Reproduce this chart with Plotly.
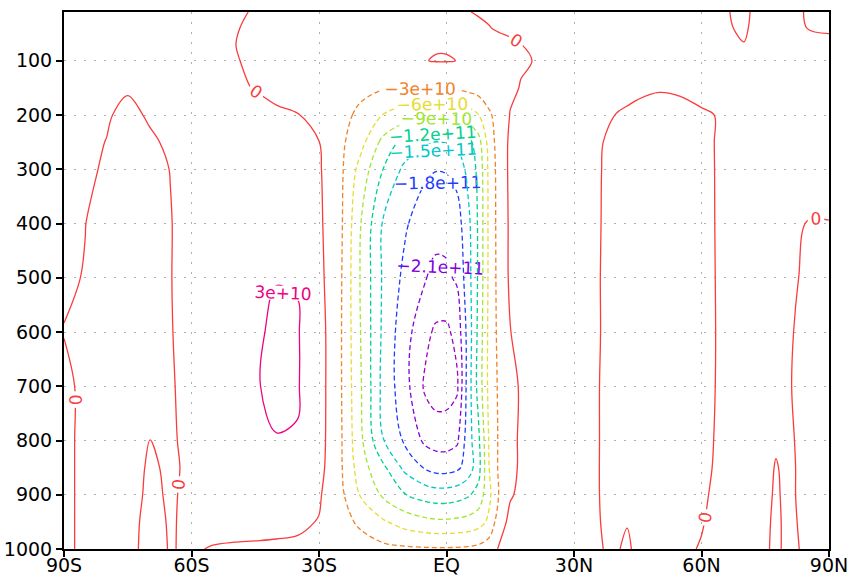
import plotly.graph_objects as go

# ---- grid -------------------------------------------------------------
lat = [-90, -85, -80, -75, -70, -65, -60, -55,
       -50, -45, -40, -35, -30, -25, -20, -15, -10, -5,
       -2.5, 0, 2.5, 5, 7.5, 10, 12.5, 15, 17.5,
       20, 25, 30, 35, 40, 42.5, 45, 50, 55, 60, 65, 70, 75, 77.5, 80, 85, 90]
pressure = [10, 40, 70, 100, 150, 200, 250, 300, 400, 500, 600, 700, 800, 850, 900, 950, 1000]

# mass streamfunction, units of 1e10 (one list per level)
#          SH polar (-90..-55)                         | SH mid (-50..-5)                                            | tropics (-2.5..17.5)                                   | NH (20..90)
psi_10 = [0.1, 0.15, 0.2, 0.25, 0.3, 0.3, 0.3, 0.3,     0.2, -0.1, -0.3, -0.4, -0.5, -0.6, -0.6, -0.6, -0.5, -0.4,     -0.35, -0.3, -0.2, -0.05, 0.1, 0.2, 0.3, 0.35, 0.4,     0.4, 0.4, 0.4, 0.4, 0.4, 0.4, 0.4, 0.4, 0.35, 0.3, 0.05, -0.1, 0.25, 0.25, 0.2, -0.05, -0.1]
psi_40 = [0.2, 0.25, 0.3, 0.3, 0.3, 0.3, 0.3, 0.3,      0.15, -0.4, -0.7, -0.9, -1.0, -1.1, -1.1, -1.0, -0.9, -0.7,   -0.6, -0.55, -0.45, -0.35, -0.25, -0.05, 0.15, 0.3, 0.4, 0.45, 0.5, 0.5, 0.5, 0.5, 0.5, 0.5, 0.5, 0.45, 0.3, 0.05, -0.05, 0.2, 0.2, 0.2, -0.01, -0.05]
psi_70 = [0.25, 0.3, 0.3, 0.3, 0.3, 0.3, 0.3, 0.3,      0.05, -0.5, -0.9, -1.1, -1.2, -1.3, -1.3, -1.2, -1.0, -0.6,   -0.15, -0.15, -0.4, -0.6, -0.6, -0.5, -0.4, -0.25, -0.02, 0.2, 0.5, 0.6, 0.6, 0.6, 0.6, 0.6, 0.6, 0.5, 0.4, 0.2, 0.01, 0.2, 0.25, 0.25, 0.2, 0.1]
psi_100 = [0.3, 0.3, 0.35, 0.35, 0.4, 0.4, 0.4, 0.35,   0.1, -0.25, -0.8, -1.2, -1.5, -1.6, -1.5, -1.2, -0.8, -0.05,  0.1, 0.1, -0.02, -0.5, -0.8, -0.8, -0.6, -0.4, -0.2,     -0.01, 0.4, 0.7, 0.8, 0.8, 0.8, 0.8, 0.7, 0.6, 0.5, 0.4, 0.3, 0.3, 0.3, 0.3, 0.3, 0.3]
psi_150 = [0.3, 0.35, 0.3, 0.1, 0.3, 0.5, 0.6, 0.6,     0.4, -0.1, -0.7, -1.2, -1.6, -2.0, -2.4, -2.75, -2.85, -2.9, -2.85, -2.8, -2.6, -2.2, -1.7, -1.2, -0.8, -0.4, 0.1,  0.5, 0.8, 0.9, 0.8, 0.5, 0.4, 0.3, 0.1, 0.2, 0.4, 0.5, 0.5, 0.4, 0.4, 0.4, 0.4, 0.4]
psi_200 = [0.3, 0.3, 0.1, -0.25, 0.1, 0.4, 0.6, 0.8,    0.9, 0.8, 0.4, 0.1, -0.9, -2.2, -3.6, -6.05, -7.4, -8.4,     -8.85, -8.8, -8.4, -7.4, -6.1, -3.5, -1.6, 0.1, 0.3,     0.4, 0.9, 1.0, 0.7, -0.05, -0.2, -0.4, -0.5, -0.45, -0.15, 0.1, 0.5, 0.5, 0.5, 0.5, 0.5, 0.5]
psi_250 = [0.3, 0.2, -0.02, -0.35, -0.15, 0.15, 0.5, 0.9, 1.1, 1.2, 1.1, 0.5, 0.05, -2.3, -5.2, -9.8, -13.0, -14.6,     -15.1, -14.9, -14.3, -13.2, -10.2, -4.8, -1.3, 0.4, 0.6, 0.7, 1.0, 1.0, 0.3, -0.5, -0.6, -0.7, -0.8, -0.7, -0.3, 0.2, 0.5, 0.5, 0.5, 0.5, 0.4, 0.4]
psi_300 = [0.2, 0.15, -0.1, -0.4, -0.35, 0.02, 0.4, 0.9, 1.3, 1.5, 1.5, 0.8, 0.3, -2.3, -7.3, -11.95, -15.6, -17.4,      -17.9, -17.8, -17.0, -14.2, -11.3, -5.3, -1.5, 0.5, 0.8, 1.0, 1.2, 1.1, 0.3, -0.7, -0.8, -0.9, -1.0, -0.9, -0.4, 0.25, 0.5, 0.5, 0.5, 0.4, 0.2, 0.15]
psi_400 = [0.1, 0.01, -0.3, -0.5, -0.5, -0.05, 0.5, 1.0, 1.6, 2.2, 2.5, 2.2, 0.5, -2.3, -9.2, -15.2, -17.5, -19.8,       -20.2, -20.1, -19.3, -16.0, -11.6, -5.4, -1.6, 0.4, 0.8, 1.2, 1.4, 1.2, 0.3, -0.8, -0.9, -1.0, -1.1, -1.0, -0.5, 0.3, 0.5, 0.45, 0.4, 0.3, -0.02, -0.01]
psi_500 = [0.1, -0.03, -0.4, -0.6, -0.6, -0.05, 0.6, 1.3, 2.0, 2.5, 2.95, 2.9, 0.8, -2.5, -9.5, -15.3, -18.6, -20.9,      -21.6, -21.5, -20.6, -16.4, -11.6, -5.4, -1.7, 0.4, 0.9, 1.3, 1.5, 1.3, 0.25, -0.8, -1.0, -1.1, -1.2, -1.1, -0.55, 0.3, 0.5, 0.45, 0.4, 0.2, -0.15, -0.2]
psi_600 = [-0.02, -0.15, -0.45, -0.7, -0.7, -0.1, 0.7, 1.5, 2.2, 2.75, 3.3, 3.15, 1.2, -2.6, -9.3, -15.5, -19.7, -23.2,  -24.5, -24.6, -23.0, -17.0, -11.3, -5.2, -2.0, -0.05, 0.6, 1.0, 1.4, 1.3, 0.3, -0.9, -1.0, -1.1, -1.2, -1.1, -0.6, 0.3, 0.5, 0.4, 0.35, 0.1, -0.2, -0.25]
psi_700 = [0.15, -0.15, -0.5, -0.7, -0.4, -0.15, 0.5, 1.6, 2.3, 2.9, 3.3, 3.15, 1.22, -2.6, -9.0, -15.8, -19.7, -24.5,   -25.5, -25.4, -24.5, -16.8, -11.0, -5.2, -2.35, -0.9, 0.3, 0.8, 1.2, 1.1, 0.2, -0.8, -0.9, -1.0, -1.1, -1.0, -0.55, 0.3, 0.5, 0.35, 0.3, 0.08, -0.25, -0.3]
psi_800 = [0.15, -0.15, -0.45, -0.5, 0.02, -0.15, 0.3, 1.3, 2.0, 2.6, 2.95, 2.9, 1.1, -2.5, -8.6, -14.9, -18.3, -21.6,    -22.2, -22.2, -21.5, -16.5, -12.7, -5.8, -2.4, -0.6, 0.3, 0.6, 1.0, 0.9, 0.15, -0.6, -0.8, -0.9, -1.0, -0.9, -0.4, 0.3, 0.5, 0.3, 0.1, 0.12, -0.2, -0.25]
psi_850 = [0.15, -0.15, -0.4, -0.4, 0.1, -0.1, 0.12, 1.0, 1.7, 2.3, 2.5, 2.4, 0.9, -2.5, -7.8, -11.3, -15.6, -18.3,      -19.1, -19.2, -18.6, -16.8, -13.2, -6.05, -2.3, -0.6, 0.3, 0.6, 0.9, 0.8, 0.12, -0.5, -0.6, -0.7, -0.8, -0.7, -0.3, 0.3, 0.45, 0.25, -0.05, 0.15, -0.2, -0.25]
psi_900 = [0.15, -0.15, -0.35, -0.35, 0.15, -0.08, 0.15, 0.8, 1.3, 1.8, 2.0, 1.6, 0.3, -2.2, -6.4, -9.4, -11.8, -13.2,   -13.6, -13.6, -13.2, -12.4, -11.0, -6.7, -2.6, -0.2, 0.4, 0.5, 0.7, 0.6, 0.1, -0.4, -0.45, -0.6, -0.7, -0.5, -0.15, 0.3, 0.4, 0.2, -0.1, 0.15, -0.2, -0.25]
psi_950 = [0.1, -0.1, -0.25, -0.25, 0.2, -0.05, 0.12, 0.3, 0.6, 0.7, 0.6, 0.4, -0.1, -1.9, -3.6, -5.6, -7.2, -8.2,         -8.5, -8.5, -8.3, -8.0, -7.2, -5.4, -1.0, 0.6, 0.6,     0.5, 0.5, 0.4, 0.1, -0.3, -0.03, -0.4, -0.5, -0.3, -0.05, 0.3, 0.35, 0.15, -0.15, 0.15, -0.15, -0.2]
psi_1000 = [0.1, -0.1, -0.2, -0.2, 0.2, -0.03, 0.08, -0.05, -0.2, -0.3, -0.35, -0.4, -0.6, -1.1, -1.7, -2.2, -2.5, -2.65, -2.7, -2.7, -2.65, -2.5, -2.2, -1.3, 0.3, 0.5, 0.5,      0.5, 0.4, 0.3, 0.03, -0.05, 0.1, -0.15, -0.3, -0.15, 0.05, 0.25, 0.3, 0.1, -0.15, 0.15, -0.1, -0.1]

rows = [psi_10, psi_40, psi_70, psi_100, psi_150, psi_200, psi_250, psi_300, psi_400,
        psi_500, psi_600, psi_700, psi_800, psi_850, psi_900, psi_950, psi_1000]
unit = 1e10
z = [[v * unit for v in r] for r in rows]

# contour levels (units of 1e10) and GrADS rainbow colours
levels = [-24, -21, -18, -15, -12, -9, -6, -3, 0, 3]
level_colors = ["rgb(160,0,200)", "rgb(130,0,220)", "rgb(30,60,255)", "rgb(0,200,200)",
                "rgb(0,210,140)", "rgb(160,230,50)", "rgb(230,220,50)", "rgb(240,130,40)",
                "rgb(250,60,60)", "rgb(240,0,130)"]

lat_ticks = [-90, -60, -30, 0, 30, 60, 90]
lat_labels = ["90S", "60S", "30S", "EQ", "30N", "60N", "90N"]
p_ticks = [100, 200, 300, 400, 500, 600, 700, 800, 900, 1000]

fig = go.Figure()
for lv, col in zip(levels, level_colors):
    val = lv * unit
    fig.add_trace(go.Contour(
        x=lat, y=pressure, z=z,
        autocontour=False,
        contours=dict(start=val, end=val, size=3 * unit, coloring="none",
                      showlabels=True,
                      labelfont=dict(family="DejaVu Sans", size=17, color=col),
                      labelformat=(".0f" if lv == 0 else "~e")),
        line=dict(color=col, width=1.3, dash=("5px,3px" if lv < 0 else "solid"), smoothing=1),
        showscale=False, hoverinfo="skip",
    ))

axis_common = dict(showline=True, mirror=True, linecolor="black", linewidth=2,
                   ticks="outside", ticklen=6, tickwidth=1.5, tickcolor="black",
                   showgrid=True, gridcolor="rgb(175,175,175)", griddash="2px,8px", gridwidth=1,
                   zeroline=False, automargin=False,
                   tickfont=dict(family="DejaVu Sans", size=19, color="black"))

fig.update_layout(
    width=850, height=577,
    margin=dict(l=64, r=21, t=12, b=28),
    paper_bgcolor="white", plot_bgcolor="white",
    showlegend=False,
    xaxis=dict(range=[-90, 90], tickvals=lat_ticks, ticktext=lat_labels,
               ticklabelstandoff=-8, **axis_common),
    yaxis=dict(range=[1000, 10], tickvals=p_ticks, **axis_common),
)

fig.write_html("out.html", config={"displayModeBar": False},
               post_script="document.body.style.margin='0';")
